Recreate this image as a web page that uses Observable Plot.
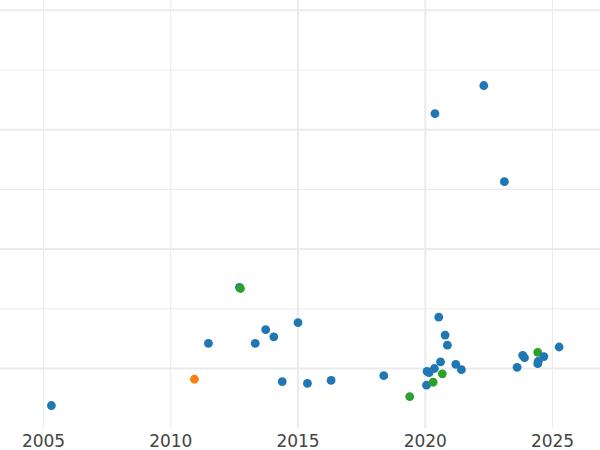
<!DOCTYPE html>
<html>
<head>
<meta charset="utf-8">
<script src="https://cdn.jsdelivr.net/npm/d3@7"></script>
<script src="https://cdn.jsdelivr.net/npm/@observablehq/plot@0.6"></script>
<style>
  html, body { margin: 0; padding: 0; background: #fff; }
  #chart svg { display: block; }
</style>
</head>
<body>
<div id="chart"></div>
<script>
// Data
const years = [
  2005.31, 2010.93, 2011.48, 2012.70, 2012.74, 2013.32, 2013.73, 2014.05, 2014.38, 2015.00,
  2015.37, 2016.30, 2018.37, 2019.39, 2020.05, 2020.31, 2020.07, 2020.15, 2020.36, 2020.60,
  2020.67, 2020.53, 2020.78, 2020.87, 2021.20, 2021.42, 2023.61, 2023.83, 2023.90, 2024.42,
  2024.42, 2024.44, 2024.66, 2025.26, 2020.38, 2022.30, 2023.11
];
const values = [
  -0.62, -0.18, 0.42, 1.36, 1.34, 0.42, 0.65, 0.53, -0.22, 0.77,
  -0.25, -0.20, -0.12, -0.47, -0.28, -0.23, -0.05, -0.07, 0.00, 0.11,
  -0.09, 0.86, 0.56, 0.39, 0.07, -0.02, 0.02, 0.22, 0.18, 0.27,
  0.08, 0.12, 0.20, 0.36, 4.27, 4.74, 3.13
];
const groups = [
  "A", "B", "A", "A", "C", "A", "A", "A", "A", "A",
  "A", "A", "A", "C", "A", "C", "A", "A", "A", "A",
  "C", "A", "A", "A", "A", "A", "A", "A", "A", "C",
  "A", "A", "A", "A", "A", "A", "A"
];
const groupNames = ["A", "B", "C"];
const groupColors = ["#1f77b4", "#ff7f0e", "#2ca02c"];
const xTicks = [2005, 2010, 2015, 2020, 2025];
const xMajor = [2015, 2020];
const xMinor = [2005, 2010, 2025];
const yMajor = [0, 2, 4, 6];
const yMinor = [1, 3, 5];

const data = years.map((y, i) => ({year: y, value: values[i], group: groups[i]}));

const chart = Plot.plot({
  width: 600,
  height: 450,
  marginLeft: 0,
  marginRight: 0,
  marginTop: 0,
  marginBottom: 22,
  style: {fontFamily: "DejaVu Sans", background: "#fff"},
  x: {domain: [2003.31, 2026.886], label: null},
  y: {domain: [-1.005, 6.164], label: null},
  color: {domain: groupNames, range: groupColors},
  marks: [
    Plot.ruleY(yMinor, {stroke: "#ebebeb", strokeWidth: 1}),
    Plot.ruleY(yMajor, {stroke: "#ebebeb", strokeWidth: 2}),
    Plot.ruleX(xMinor, {stroke: "#ebebeb", strokeWidth: 1}),
    Plot.ruleX(xMajor, {stroke: "#ebebeb", strokeWidth: 2}),
    Plot.axisX({ticks: xTicks, tickFormat: d => String(d), tickSize: 0, tickPadding: 6, fontSize: 17, color: "#444", label: null}),
    Plot.axisY({ticks: [], label: null}),
    Plot.dot(data, {x: "year", y: "value", fill: "group", r: 4.4, stroke: "none"})
  ]
});
document.getElementById("chart").appendChild(chart);
</script>
</body>
</html>
